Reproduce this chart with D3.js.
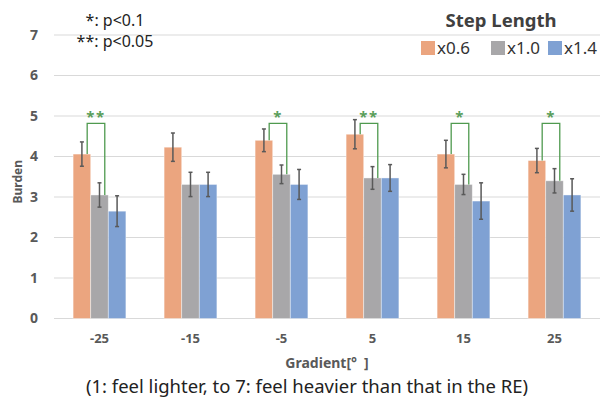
<!DOCTYPE html>
<html>
<head>
<meta charset="utf-8">
<script src="https://cdn.jsdelivr.net/npm/d3@7"></script>
<style>
  body { margin: 0; background: #fff; }
  svg text { font-family: "Noto Sans", "Open Sans", sans-serif; }
</style>
</head>
<body>
<svg id="chart"></svg>
<script>
// Burden rating per gradient, three step lengths

const gradients = ["-25", "-15", "-5", "5", "15", "25"];
const seriesNames = ["x0.6", "x1.0", "x1.4"];
const seriesColors = ["#eba57f", "#a8a7a9", "#7fa1d3"];

const means06 = [4.06, 4.23, 4.40, 4.55, 4.06, 3.90];
const means10 = [3.05, 3.31, 3.56, 3.47, 3.31, 3.40];
const means14 = [2.65, 3.31, 3.31, 3.47, 2.90, 3.05];

const err06 = [0.30, 0.35, 0.28, 0.36, 0.34, 0.30];
const err10 = [0.30, 0.30, 0.23, 0.28, 0.25, 0.30];
const err14 = [0.38, 0.30, 0.37, 0.33, 0.45, 0.40];

// significance between x0.6 and x1.0, per gradient ("" = none)
const sigLabels = ["**", "", "*", "**", "*", "*"];
const bracketTop = 4.82;

const yTicks = [0, 1, 2, 3, 4, 5, 6, 7];

const width = 609, height = 398;
const margin = {top: 35, right: 9, bottom: 79.5, left: 54};

const svg = d3.select("#chart")
  .attr("width", width)
  .attr("height", height);

const x0 = d3.scaleBand()
  .domain(gradients)
  .range([margin.left, width - margin.right])
  .paddingInner(0.42)
  .paddingOuter(0.21);

const x1 = d3.scaleBand()
  .domain(seriesNames)
  .range([0, x0.bandwidth()]);

const y = d3.scaleLinear()
  .domain([0, 7])
  .range([height - margin.bottom, margin.top]);

const means = [means06, means10, means14];
const errs = [err06, err10, err14];

const rows = [];
gradients.forEach((g, i) => {
  seriesNames.forEach((s, j) => {
    rows.push({g: g, s: s, j: j, v: means[j][i], e: errs[j][i]});
  });
});

// gridlines
svg.append("g")
  .selectAll("line")
  .data(yTicks)
  .enter()
  .append("line")
  .attr("x1", margin.left)
  .attr("x2", width - margin.right)
  .attr("y1", d => y(d))
  .attr("y2", d => y(d))
  .attr("stroke", "#d9d9d9")
  .attr("stroke-width", 1);

// y axis labels
const yAxis = svg.append("g")
  .attr("transform", "translate(" + margin.left + ",0)")
  .call(d3.axisLeft(y).tickValues(yTicks).tickSize(0).tickPadding(16).tickFormat(d3.format("d")));
yAxis.select(".domain").remove();
yAxis.selectAll("text")
  .attr("fill", "#595959")
  .attr("font-size", 14)
  .attr("font-weight", "bold")
  .style("font-family", "'Noto Sans', sans-serif");

// x axis labels
const xAxis = svg.append("g")
  .attr("transform", "translate(0," + y(0) + ")")
  .call(d3.axisBottom(x0).tickSize(0).tickPadding(15));
xAxis.select(".domain").remove();
xAxis.selectAll("text")
  .attr("fill", "#595959")
  .attr("font-size", 13)
  .attr("font-weight", "bold")
  .style("font-family", "'Noto Sans', sans-serif");

// bars
svg.append("g")
  .selectAll("rect")
  .data(rows)
  .enter()
  .append("rect")
  .attr("x", d => x0(d.g) + x1(d.s))
  .attr("y", d => y(d.v))
  .attr("width", x1.bandwidth())
  .attr("height", d => y(0) - y(d.v))
  .attr("fill", d => seriesColors[d.j])
  .attr("stroke", "#ffffff")
  .attr("stroke-opacity", 0.5)
  .attr("stroke-width", 0.8);

// error bars
const eb = svg.append("g")
  .attr("stroke", "#595959")
  .attr("stroke-width", 1.5);

const ebG = eb.selectAll("g")
  .data(rows)
  .enter()
  .append("g")
  .attr("transform", d => "translate(" + (x0(d.g) + x1(d.s) + x1.bandwidth() / 2) + ",0)");

ebG.append("line")
  .attr("y1", d => y(d.v - d.e))
  .attr("y2", d => y(d.v + d.e));
ebG.append("line")
  .attr("x1", -2).attr("x2", 2)
  .attr("y1", d => y(d.v + d.e))
  .attr("y2", d => y(d.v + d.e));
ebG.append("line")
  .attr("x1", -2).attr("x2", 2)
  .attr("y1", d => y(d.v - d.e))
  .attr("y2", d => y(d.v - d.e));

// significance brackets
const sig = gradients
  .map((g, i) => ({g: g, label: sigLabels[i], a: means06[i], b: means10[i]}))
  .filter(d => d.label !== "");

const legOffset = x1.bandwidth() * 0.8;

svg.append("g")
  .selectAll("path")
  .data(sig)
  .enter()
  .append("path")
  .attr("d", d => {
    const xa = x0(d.g) + x1(seriesNames[0]) + legOffset;
    const xb = x0(d.g) + x1(seriesNames[1]) + legOffset;
    return "M" + xa + "," + y(d.a) + "V" + y(bracketTop) + "H" + xb + "V" + y(d.b);
  })
  .attr("fill", "none")
  .attr("stroke", "#4f9a4f")
  .attr("stroke-width", 1.3);

svg.append("g")
  .selectAll("text")
  .data(sig)
  .enter()
  .append("text")
  .attr("x", d => x0(d.g) + x1(seriesNames[0]) + legOffset + x1.bandwidth() / 2)
  .attr("y", y(bracketTop) - 1)
  .attr("text-anchor", "middle")
  .attr("fill", "#5a9e5a")
  .attr("font-size", 15)
  .attr("font-weight", "bold")
  .attr("letter-spacing", 1.5)
  .text(d => d.label);

// axis titles
svg.append("text")
  .attr("transform", "translate(22," + ((y(0) + y(7)) / 2 + 5) + ") rotate(-90)")
  .attr("text-anchor", "middle")
  .attr("fill", "#595959")
  .attr("font-size", 12)
  .attr("font-weight", "bold")
  .text("Burden");

svg.append("text")
  .attr("x", (margin.left + width - margin.right) / 2)
  .attr("y", 368)
  .attr("text-anchor", "middle")
  .attr("fill", "#595959")
  .attr("font-size", 14)
  .attr("font-weight", "bold")
  .text("Gradient[°\u2002]");

svg.append("text")
  .attr("x", 307)
  .attr("y", 393)
  .attr("text-anchor", "middle")
  .attr("fill", "#222")
  .attr("font-size", 18.5)
  .text("(1: feel lighter, to 7: feel heavier than that in the RE)");

// p-value note
const note = svg.append("g")
  .attr("fill", "#222")
  .attr("font-size", 16)
  .attr("text-anchor", "middle");
note.append("text").attr("x", 115).attr("y", 26).text("*: p<0.1");
note.append("text").attr("x", 115).attr("y", 47).text("**: p<0.05");

// legend
svg.append("text")
  .attr("x", 501)
  .attr("y", 27)
  .attr("text-anchor", "middle")
  .attr("fill", "#404040")
  .attr("font-size", 18.5)
  .attr("font-weight", "bold")
  .text("Step Length");

const legendX = [421, 491, 548];
const legend = svg.append("g")
  .selectAll("g")
  .data(seriesNames)
  .enter()
  .append("g")
  .attr("transform", (d, i) => "translate(" + legendX[i] + ",41)");

legend.append("rect")
  .attr("width", 14)
  .attr("height", 14)
  .attr("fill", (d, i) => seriesColors[i]);

legend.append("text")
  .attr("x", 16)
  .attr("y", 13)
  .attr("fill", "#333")
  .attr("font-size", 17)
  .text(d => d);
</script>
</body>
</html>
